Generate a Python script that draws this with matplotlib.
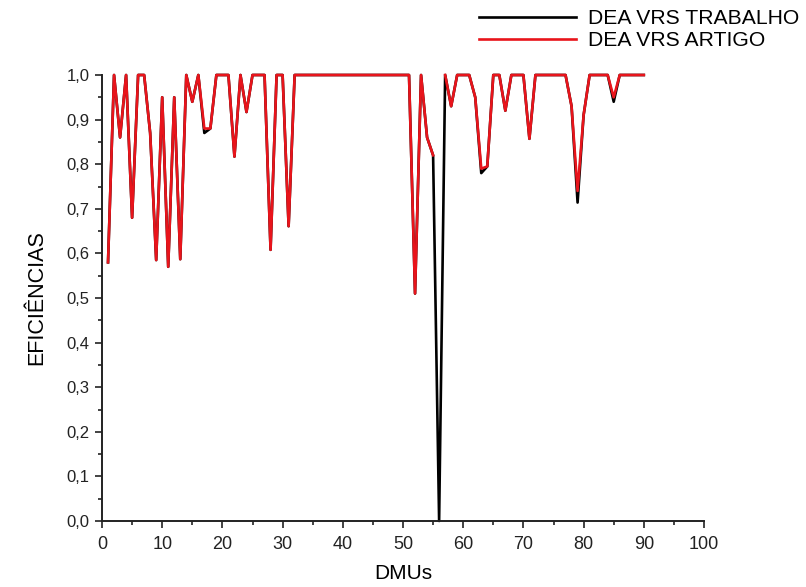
import numpy as np
import matplotlib
matplotlib.use('Agg')
from matplotlib import pyplot as plt
from matplotlib.ticker import MultipleLocator, FuncFormatter

plt.rcParams['font.family'] = ['Liberation Sans', 'DejaVu Sans']

# DMU numbers
dmus = np.arange(1, 91)

# efficiencies (DEA VRS ARTIGO)
artigo = [0.58, 1.0, 0.86, 1.0, 0.68, 1.0, 1.0, 0.87, 0.585, 0.95,
          0.57, 0.95, 0.587, 1.0, 0.94, 1.0, 0.88, 0.88, 1.0, 1.0,
          1.0, 0.817, 1.0, 0.917, 1.0, 1.0, 1.0, 0.608, 1.0, 1.0,
          0.661, 1.0, 1.0, 1.0, 1.0, 1.0, 1.0, 1.0, 1.0, 1.0,
          1.0, 1.0, 1.0, 1.0, 1.0, 1.0, 1.0, 1.0, 1.0, 1.0,
          1.0, 0.51, 1.0, 0.86, 0.82, np.nan, 1.0, 0.93, 1.0, 1.0,
          1.0, 0.95, 0.79, 0.795, 1.0, 1.0, 0.92, 1.0, 1.0, 1.0,
          0.857, 1.0, 1.0, 1.0, 1.0, 1.0, 1.0, 0.93, 0.74, 0.91,
          1.0, 1.0, 1.0, 1.0, 0.95, 1.0, 1.0, 1.0, 1.0, 1.0]

# DEA VRS TRABALHO - same as artigo except a few DMUs
trabalho = [0.58, 1.0, 0.86, 1.0, 0.68, 1.0, 1.0, 0.87, 0.585, 0.95,
            0.57, 0.95, 0.587, 1.0, 0.94, 1.0, 0.87, 0.88, 1.0, 1.0,
            1.0, 0.817, 1.0, 0.917, 1.0, 1.0, 1.0, 0.608, 1.0, 1.0,
            0.661, 1.0, 1.0, 1.0, 1.0, 1.0, 1.0, 1.0, 1.0, 1.0,
            1.0, 1.0, 1.0, 1.0, 1.0, 1.0, 1.0, 1.0, 1.0, 1.0,
            1.0, 0.51, 1.0, 0.86, 0.82, 0.0, 1.0, 0.93, 1.0, 1.0,
            1.0, 0.95, 0.78, 0.795, 1.0, 1.0, 0.92, 1.0, 1.0, 1.0,
            0.857, 1.0, 1.0, 1.0, 1.0, 1.0, 1.0, 0.93, 0.714, 0.91,
            1.0, 1.0, 1.0, 1.0, 0.94, 1.0, 1.0, 1.0, 1.0, 1.0]

fig = plt.figure(figsize=(8.06, 5.87), dpi=100)
ax = fig.add_axes([102 / 806, 66 / 587, 602 / 806, 446 / 587])

ax.plot(dmus, trabalho, color='black', lw=1.9, label='DEA VRS TRABALHO', clip_on=False)
ax.plot(dmus, artigo, color='#e8141b', lw=1.9, label='DEA VRS ARTIGO', clip_on=False)

ax.set_xlim(0, 100)
ax.set_ylim(0, 1.0)
ax.xaxis.set_major_locator(MultipleLocator(10))
ax.xaxis.set_minor_locator(MultipleLocator(5))
ax.yaxis.set_major_locator(MultipleLocator(0.1))
ax.yaxis.set_minor_locator(MultipleLocator(0.05))
ax.yaxis.set_major_formatter(FuncFormatter(lambda v, p: f'{v:.1f}'.replace('.', ',')))

for s in ['top', 'right']:
    ax.spines[s].set_visible(False)
for s in ['left', 'bottom']:
    ax.spines[s].set_linewidth(1.4)
    ax.spines[s].set_color('#222222')

ax.tick_params(which='major', direction='out', length=5, width=1.2,
               colors='#222222')
ax.tick_params(which='minor', direction='out', length=3, width=1.2, colors='#222222')
ax.tick_params(axis='x', which='major', labelsize=13, pad=6)
ax.tick_params(axis='y', which='major', labelsize=12, pad=4)

ax.set_xlabel('DMUs', fontsize=15, labelpad=8)
ax.set_ylabel('EFICIÊNCIAS', fontsize=15.5, labelpad=14)

fig.legend(loc='upper left', bbox_to_anchor=(479 / 806, 1 - 9 / 587), frameon=False,
           fontsize=15.2, handlelength=4.6, handletextpad=0.55, labelspacing=0.15,
           borderpad=0, borderaxespad=0)

fig.savefig('out.png', dpi=100)
